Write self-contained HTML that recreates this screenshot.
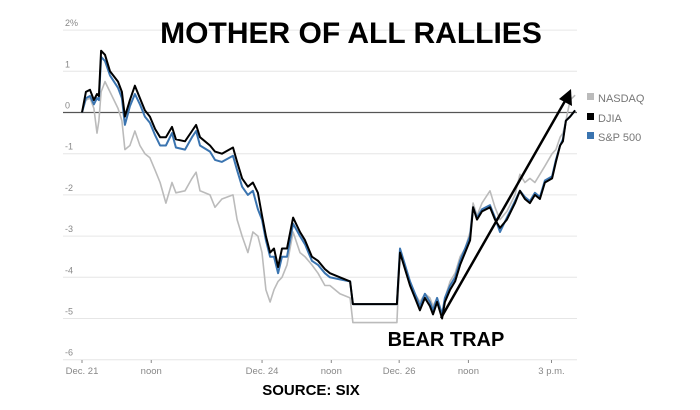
<!DOCTYPE html>
<html><head><meta charset="utf-8"><style>
body{margin:0;background:#fff;}
svg{display:block;font-family:"Liberation Sans",sans-serif;}
</style></head><body>
<svg id="chart" width="700" height="410" viewBox="0 0 700 410">
<g id="grid"></g>
<g id="yaxis"></g>
<g id="xaxis"></g>
<g id="series"></g>
<text x="351" y="43" text-anchor="middle" font-size="30" font-weight="bold" fill="#000">MOTHER OF ALL RALLIES</text>
<text x="446" y="346" text-anchor="middle" font-size="20" font-weight="bold" fill="#000">BEAR TRAP</text>
<text x="311" y="395" text-anchor="middle" font-size="15" font-weight="bold" fill="#000">SOURCE: SIX</text>
<g>
<line x1="441" y1="318" x2="565" y2="101" stroke="#000" stroke-width="2.5"/>
<polygon points="571,89 572,106 559,99" fill="#000"/>
</g>
<g font-size="11" fill="#777">
<g><rect x="587" y="93" width="7" height="7" fill="#bbb"/><text x="598" y="102">NASDAQ</text></g>
<g><rect x="587" y="113" width="7" height="7" fill="#000"/><text x="598" y="122">DJIA</text></g>
<g><rect x="587" y="132" width="7" height="7" fill="#3a74b0"/><text x="598" y="141">S&amp;P 500</text></g>
</g>
</svg>
<script>
const times=[0,.14,.29,.43,.54,.61,.69,.83,1.01,1.30,1.44,1.55,1.73,1.91,2.09,2.27,2.45,2.64,2.82,3.03,3.25,3.39,3.72,3.97,4.12,4.26,4.62,4.80,5.05,5.45,5.60,5.78,5.99,6.17,6.35,6.50,6.64,6.79,6.93,7.08,7.22,7.40,7.62,7.87,8.05,8.30,8.52,8.77,8.95,9.31,9.68,9.78,10.58,11.37,11.48,11.66,11.84,12.02,12.20,12.38,12.56,12.67,12.82,13.00,13.10,13.29,13.47,13.65,13.83,14.01,14.12,14.26,14.44,14.73,14.91,15.09,15.34,15.63,15.81,15.99,16.17,16.35,16.53,16.71,16.97,17.11,17.26,17.36,17.47,17.62,17.80];
const nasdaq=[0,.3,.35,.1,-.5,-.2,.5,.75,.5,.1,-.2,-.9,-.8,-.45,-.8,-1,-1.1,-1.4,-1.7,-2.2,-1.7,-1.95,-1.9,-1.6,-1.45,-1.9,-2,-2.3,-2.1,-2,-2.6,-3,-3.4,-2.9,-3,-3.4,-4.3,-4.6,-4.3,-4.1,-4,-3.7,-2.9,-3.4,-3.5,-3.7,-3.9,-4.2,-4.2,-4.4,-4.5,-5.1,-5.1,-5.1,-3.4,-3.7,-4.1,-4.4,-4.6,-4.4,-4.5,-4.7,-4.5,-4.9,-4.5,-4.1,-3.9,-3.5,-3.3,-2.9,-2.2,-2.5,-2.2,-1.9,-2.3,-2.6,-2.4,-2.0,-1.5,-1.7,-1.6,-1.7,-1.5,-1.3,-1.0,-.9,-.6,-.5,-.2,.3,.42];
const sp500=[0,.35,.4,.2,.35,.3,1.35,1.25,.9,.6,.35,-.3,.15,.45,.2,-.1,-.25,-.55,-.8,-.8,-.5,-.85,-.9,-.6,-.45,-.8,-.95,-1.15,-1.2,-1.05,-1.4,-1.8,-2,-1.9,-2.35,-2.6,-3.1,-3.5,-3.5,-3.9,-3.5,-3.5,-2.7,-3,-3.2,-3.6,-3.7,-3.9,-4,-4.05,-4.1,-4.65,-4.65,-4.65,-3.3,-3.7,-4.1,-4.4,-4.7,-4.4,-4.6,-4.8,-4.5,-4.9,-4.5,-4.2,-4,-3.6,-3.3,-3,-2.3,-2.55,-2.35,-2.25,-2.55,-2.9,-2.55,-2.15,-1.9,-2.05,-2.15,-1.95,-2.05,-1.65,-1.55,-1.15,-.8,-.65,-.2,-.1,.05];
const djia=[0,.5,.55,.3,.45,.4,1.5,1.4,1.0,.75,.5,-.1,.3,.65,.35,.05,-.1,-.4,-.6,-.6,-.35,-.65,-.7,-.45,-.3,-.6,-.8,-.95,-1,-.85,-1.2,-1.6,-1.8,-1.7,-1.95,-2.5,-3,-3.4,-3.3,-3.75,-3.3,-3.3,-2.55,-2.9,-3.1,-3.5,-3.6,-3.8,-3.9,-4.0,-4.1,-4.65,-4.65,-4.65,-3.4,-3.8,-4.2,-4.5,-4.8,-4.5,-4.7,-4.9,-4.6,-5,-4.6,-4.3,-4.1,-3.7,-3.4,-3.1,-2.3,-2.6,-2.4,-2.3,-2.6,-2.8,-2.6,-2.2,-1.9,-2.1,-2.2,-2.0,-2.1,-1.7,-1.6,-1.2,-0.8,-0.7,-0.2,-0.1,0.05];
const yTicks=[2,1,0,-1,-2,-3,-4,-5,-6];
const yTickLabels=["2%","1","0","-1","-2","-3","-4","-5","-6"];
const xTicks=[0,2.5,6.5,9.0,11.45,13.95,16.95];
const xTickLabels=["Dec. 21","noon","Dec. 24","noon","Dec. 26","noon","3 p.m."];

const NS="http://www.w3.org/2000/svg";
const X0=82,PXH=27.7,Y0=112.5,PXU=41.2,L=63,R=577;
function xs(t){return X0+t*PXH;}
function ys(v){return Y0-v*PXU;}
function mk(tag,attrs,parent){const e=document.createElementNS(NS,tag);for(const k in attrs)e.setAttribute(k,attrs[k]);parent.appendChild(e);return e;}
const grid=document.getElementById('grid'),ya=document.getElementById('yaxis'),xa=document.getElementById('xaxis'),ser=document.getElementById('series');
yTicks.forEach((v,i)=>{
  const ln=mk('line',{x1:L,x2:R,y1:ys(v),y2:ys(v),stroke:v===0?'#555':'#e6e6e6','stroke-width':v===0?1.3:1},grid);
  
  
  const t=mk('text',{x:65,y:ys(v)-4,'font-size':9,fill:'#888'},ya);
  t.textContent=yTickLabels[i];
  
  
});
xTicks.forEach((v,i)=>{
  const tk=mk('line',{x1:xs(v),x2:xs(v),y1:360,y2:363,stroke:'#888'},xa);
  
  
  const t=mk('text',{x:xs(v),y:374,'font-size':9.5,fill:'#888','text-anchor':'middle'},xa);
  t.textContent=xTickLabels[i];
  
  
});
function path(vals){return vals.map((v,i)=>(i?'L':'M')+xs(times[i]).toFixed(1)+','+ys(v).toFixed(1)).join('');}
const pN=mk('path',{d:path(nasdaq),fill:'none',stroke:'#bbb','stroke-width':1.6,'stroke-linejoin':'round'},ser);


const pS=mk('path',{d:path(sp500),fill:'none',stroke:'#3a74b0','stroke-width':2,'stroke-linejoin':'round'},ser);


const pD=mk('path',{d:path(djia),fill:'none',stroke:'#000','stroke-width':2,'stroke-linejoin':'round'},ser);


</script>
</body></html>
